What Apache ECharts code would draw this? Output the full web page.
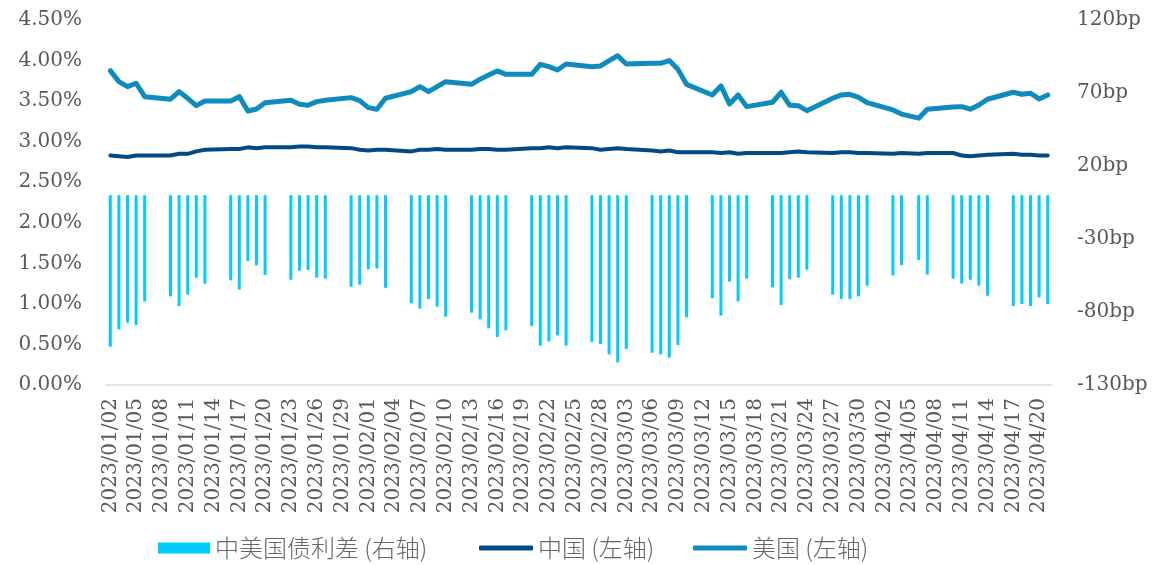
<!DOCTYPE html>
<html><head><meta charset="utf-8">
<script src="https://cdn.jsdelivr.net/npm/echarts@6/dist/echarts.min.js"></script>
<style>html,body{margin:0;padding:0;background:#fff}#c{width:1160px;height:565px}</style>
</head><body><div id="c"></div><script>
const categories = [
'2023/01/02','2023/01/03','2023/01/04','2023/01/05','2023/01/06','2023/01/07','2023/01/08',
'2023/01/09','2023/01/10','2023/01/11','2023/01/12','2023/01/13','2023/01/14','2023/01/15',
'2023/01/16','2023/01/17','2023/01/18','2023/01/19','2023/01/20','2023/01/21','2023/01/22',
'2023/01/23','2023/01/24','2023/01/25','2023/01/26','2023/01/27','2023/01/28','2023/01/29',
'2023/01/30','2023/01/31','2023/02/01','2023/02/02','2023/02/03','2023/02/04','2023/02/05',
'2023/02/06','2023/02/07','2023/02/08','2023/02/09','2023/02/10','2023/02/11','2023/02/12',
'2023/02/13','2023/02/14','2023/02/15','2023/02/16','2023/02/17','2023/02/18','2023/02/19',
'2023/02/20','2023/02/21','2023/02/22','2023/02/23','2023/02/24','2023/02/25','2023/02/26',
'2023/02/27','2023/02/28','2023/03/01','2023/03/02','2023/03/03','2023/03/04','2023/03/05',
'2023/03/06','2023/03/07','2023/03/08','2023/03/09','2023/03/10','2023/03/11','2023/03/12',
'2023/03/13','2023/03/14','2023/03/15','2023/03/16','2023/03/17','2023/03/18','2023/03/19',
'2023/03/20','2023/03/21','2023/03/22','2023/03/23','2023/03/24','2023/03/25','2023/03/26',
'2023/03/27','2023/03/28','2023/03/29','2023/03/30','2023/03/31','2023/04/01','2023/04/02',
'2023/04/03','2023/04/04','2023/04/05','2023/04/06','2023/04/07','2023/04/08','2023/04/09',
'2023/04/10','2023/04/11','2023/04/12','2023/04/13','2023/04/14','2023/04/15','2023/04/16',
'2023/04/17','2023/04/18','2023/04/19','2023/04/20','2023/04/21'
];
const _ = null;
// 中美国债利差 (bp), right axis
const spreadBp = [
-103.8,-91.9,-87.3,-88.9,-72.7,_,_,
-69.3,-75.9,-68.1,-56.5,-60.6,_,_,
-58.3,-64.5,-45.1,-48.0,-54.7,_,_,
-57.9,-51.7,-51.2,-56.5,-57.2,_,_,
-62.7,-61.3,-50.8,-50.1,-63.4,_,_,
-74.1,-77.7,-71.1,-76.3,-83.2,_,_,
-80.5,-85.0,-91.2,-97.1,-92.6,_,_,
-89.6,-103.1,-100.1,-96.0,-103.1,_,_,
-100.5,-101.9,-109.0,-114.5,-105.3,_,_,
-107.9,-109.0,-111.3,-102.6,-83.6,_,_,
-70.6,-82.5,-59.2,-72.7,-57.2,_,_,
-63.1,-75.2,-57.6,-56.5,-51.0,_,_,
-68.1,-71.1,-71.1,-69.3,-62.0,_,_,
-54.9,-47.8,_,-44.4,-54.4,_,_,
-57.2,-60.5,-57.9,-62.0,-68.8,_,_,
-75.9,-74.5,-75.9,-69.9,-74.5
];
// 中国 (%), left axis
const chinaYield = [
2.83,2.82,2.81,2.83,2.83,_,_,
2.83,2.85,2.85,2.88,2.90,_,_,
2.91,2.91,2.93,2.92,2.93,_,_,
2.93,2.94,2.94,2.93,2.93,_,_,
2.92,2.90,2.89,2.90,2.90,_,_,
2.88,2.90,2.90,2.91,2.90,_,_,
2.90,2.91,2.91,2.90,2.90,_,_,
2.92,2.92,2.93,2.92,2.93,_,_,
2.92,2.90,2.91,2.92,2.91,_,_,
2.89,2.88,2.89,2.87,2.87,_,_,
2.87,2.86,2.87,2.85,2.86,_,_,
2.86,2.86,2.87,2.88,2.87,_,_,
2.86,2.87,2.87,2.86,2.86,_,_,
2.85,2.86,_,2.85,2.86,_,_,
2.86,2.83,2.82,2.83,2.84,_,_,
2.85,2.84,2.84,2.83,2.83
];
// 美国 (%), left axis
const usYield = [
3.876,3.74,3.678,3.72,3.555,_,_,
3.523,3.617,3.535,3.444,3.502,_,_,
3.502,3.555,3.378,3.403,3.481,_,_,
3.51,3.461,3.449,3.494,3.51,_,_,
3.543,3.506,3.42,3.40,3.535,_,_,
3.617,3.678,3.617,3.678,3.74,_,_,
3.707,3.77,3.822,3.872,3.83,_,_,
3.83,3.954,3.925,3.884,3.958,_,_,
3.925,3.933,3.999,4.06,3.958,_,_,
3.966,3.966,4.00,3.893,3.707,_,_,
3.576,3.687,3.465,3.576,3.432,_,_,
3.486,3.609,3.449,3.444,3.382,_,_,
3.535,3.576,3.584,3.547,3.481,_,_,
3.391,3.34,_,3.29,3.40,_,_,
3.428,3.432,3.40,3.452,3.523,_,_,
3.609,3.584,3.597,3.527,3.576
];
const seriesNames = ['中美国债利差 (右轴)', '中国 (左轴)', '美国 (左轴)'];

const labelColor = '#595959';
const serif = 'DejaVu Serif';
const legendText = {color: '#666666', fontFamily: 'Noto Sans CJK SC', fontSize: 24, fontWeight: 300};

const chart = echarts.init(document.getElementById('c'), null, {renderer: 'canvas'});
chart.setOption({
  animation: false,
  backgroundColor: '#ffffff',
  grid: {left: 106, right: 108, top: 20, bottom: 180, containLabel: false},
  legend: [
    {left: 153, top: 531, itemWidth: 52, itemHeight: 11, data: [{name: seriesNames[0], icon: 'rect'}], textStyle: legendText},
    {left: 474, top: 531, itemWidth: 54, itemHeight: 5, data: [{name: seriesNames[1], icon: 'roundRect'}], textStyle: legendText},
    {left: 688, top: 531, itemWidth: 54, itemHeight: 5, data: [{name: seriesNames[2], icon: 'roundRect'}], textStyle: legendText}
  ],
  xAxis: {
    type: 'category',
    data: categories,
    boundaryGap: true,
    axisLine: {lineStyle: {color: '#d9d9d9', width: 1.5}},
    axisTick: {show: false},
    axisLabel: {interval: 2, rotate: 90, margin: 13, color: labelColor, fontFamily: serif, fontSize: 20}
  },
  yAxis: [
    {
      type: 'value', min: 0, max: 4.5, interval: 0.5,
      splitLine: {show: false}, axisLine: {show: false}, axisTick: {show: false},
      axisLabel: {margin: 24, color: labelColor, fontFamily: serif, fontSize: 20,
        formatter: v => v.toFixed(2) + '%'}
    },
    {
      type: 'value', min: -130, max: 120, interval: 50,
      splitLine: {show: false}, axisLine: {show: false}, axisTick: {show: false},
      axisLabel: {margin: 25, color: labelColor, fontFamily: serif, fontSize: 20,
        formatter: v => v + 'bp'}
    }
  ],
  series: [
    {
      name: seriesNames[0], type: 'bar', yAxisIndex: 1, data: spreadBp,
      barWidth: 3, itemStyle: {color: '#00CCFF'}, z: 1
    },
    {
      name: seriesNames[1], type: 'line', yAxisIndex: 0, data: chinaYield,
      connectNulls: true, symbol: 'none', z: 3,
      lineStyle: {color: '#004A87', width: 4, cap: 'round', join: 'round'},
      itemStyle: {color: '#004A87'}
    },
    {
      name: seriesNames[2], type: 'line', yAxisIndex: 0, data: usYield,
      connectNulls: true, symbol: 'none', z: 4,
      lineStyle: {color: '#0F8BBE', width: 5, cap: 'round', join: 'round'},
      itemStyle: {color: '#0F8BBE'}
    }
  ]
});
</script></body></html>
